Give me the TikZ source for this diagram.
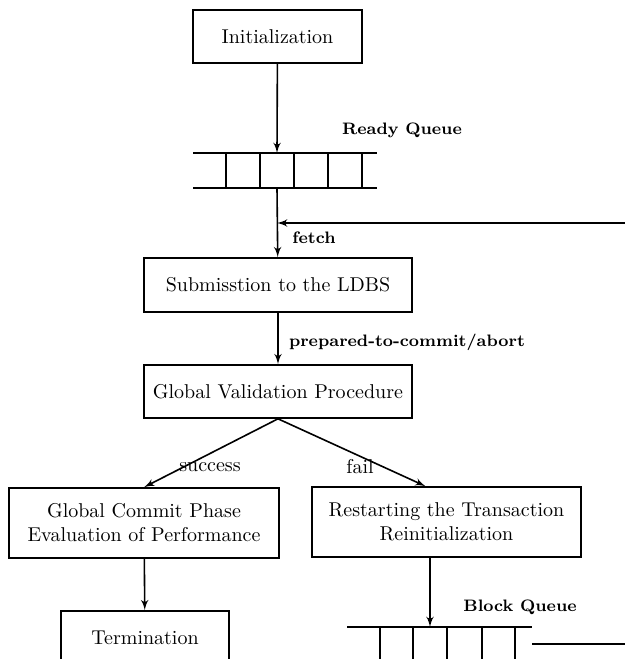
\documentclass[tikz,border=0pt]{standalone}
\usepackage{tikz}
\usetikzlibrary{shapes,arrows}
\tikzstyle{line} = [draw, thick]
\tikzstyle{block} = [rectangle, draw, thick, align = center, inner sep = 0pt]
\tikzstyle{tag} = [font = \bfseries\fontsize{8.3}{10}\selectfont]
\tikzstyle{line2} = [draw, thick, -latex']

\begin{document}
\begin{tikzpicture}[x = 0.5pt, y = -0.5pt]
			\clip (0, 0) rectangle (625, 659);
			% Place nodes
			\node [block, minimum width = 84.5pt, minimum height = 26.5pt] (init) at (277.5, 36.5) {Initialization};
			\node [block, minimum width = 134pt, minimum height = 27pt] (submit) at (278, 285) {Submisstion to the LDBS};
			\node [block, minimum width = 134pt, minimum height = 26.5pt] (valid) at (278, 391.5) {Global Validation Procedure};
			\node [block, minimum width = 135pt, minimum height = 35pt] (commit) at (144, 523) {Global Commit Phase\\Evaluation of Performance};
			\node [block, minimum width = 134.5pt, minimum height = 35pt] (restart) at (446.5, 522) {Restarting the Transaction\\Reinitialization};
			\node [block, minimum width = 84pt, minimum height = 27pt] (term) at (145, 638) {Termination};
			
			% Labels
			\node [tag] (rqlabel) at (402, 130) {Ready Queue};
			\node [tag] (fetchlabel) at (314, 238) {fetch};
			\node [tag] (pclabel) at (407, 342) {prepared-to-commit/abort};
			\node (succlabel) at (210, 467) {success};
			\node (faillabel) at (360, 467) {fail};
			\node [tag] (bqlabel) at (520, 607) {Block Queue};
			
			% Queues
			\coordinate (rqin) at (277, 153);
			\coordinate (rqout) at (277, 188);
			\coordinate (fetchin) at (625, 223);
			\coordinate (fetchon) at (277, 223);
			\coordinate (bqin) at (430, 627);
			\coordinate (bqout) at (532, 644);
			\coordinate (bqend) at (625, 644);
			\path [line] (193, 153) -- (377, 153);
			\path [line] (193, 188) -- (377, 188);
			\foreach \x in {226, 260, 294, 328, 362}
				\path [line] (\x, 153) -- (\x, 188);
			\path [line] (347, 627) -- (532, 627);
			\foreach \x in {380, 413, 447, 482, 515}
				\path [line] (\x, 627) -- (\x, 670);
			
			% Draw edges
			\path [line2] (init) -- (rqin);
			\path [line2] (rqout) -- (submit);
			\path [line2] (fetchin) -- (fetchon);
			\path [line2] (submit) -- (valid);
			\path [line2] (valid.south) -- (commit.north);
			\path [line2] (valid.south) -- ([xshift = -10.5pt]restart.north);
			\path [line2] (commit) -- (term);
			\path [line2] (restart.south -| bqin) -- (bqin);
			\path [line] (bqout) -- (bqend);
		\end{tikzpicture}
\end{document}
